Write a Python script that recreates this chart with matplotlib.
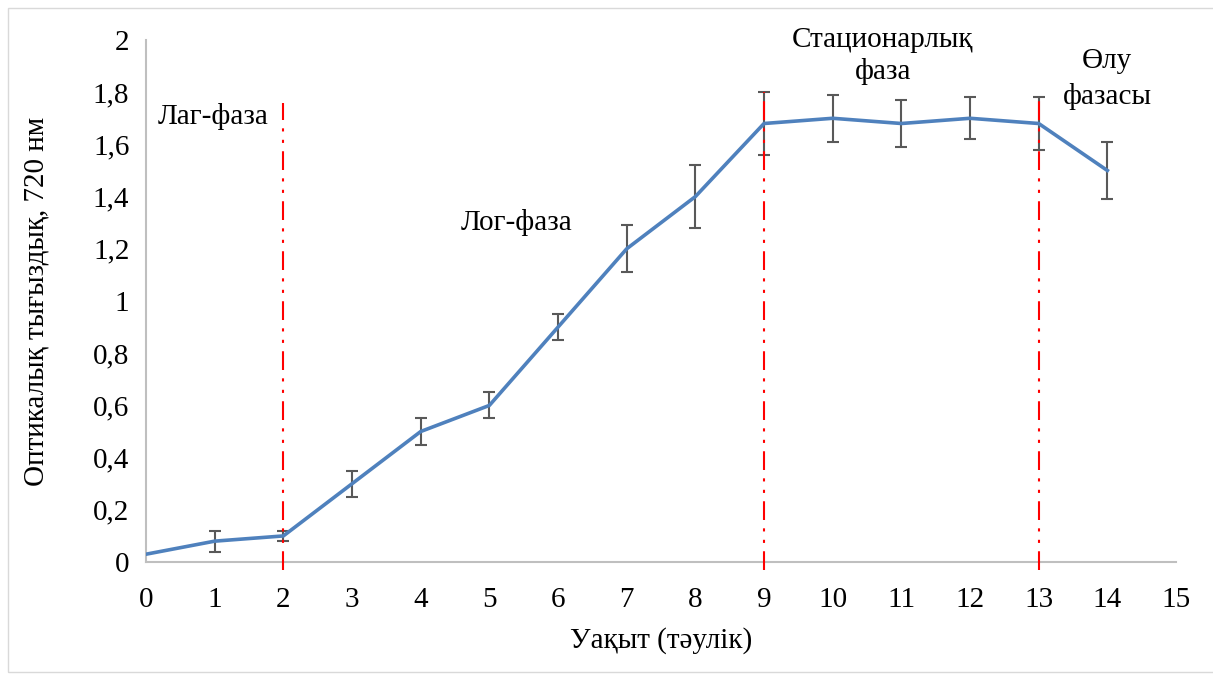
import matplotlib
matplotlib.use("Agg")
import matplotlib.pyplot as plt
from matplotlib.patches import Rectangle

plt.rcParams['font.family'] = ['Liberation Serif', 'DejaVu Serif']

days = [0, 1, 2, 3, 4, 5, 6, 7, 8, 9, 10, 11, 12, 13, 14]
density = [0.03, 0.08, 0.10, 0.30, 0.50, 0.60, 0.90, 1.20, 1.40, 1.68, 1.70, 1.68, 1.70, 1.68, 1.50]
errors = [0, 0.04, 0.02, 0.05, 0.05, 0.05, 0.05, 0.09, 0.12, 0.12, 0.09, 0.09, 0.08, 0.10, 0.11]

phase_bounds = [2, 9, 13]
phase_tops = [1.76, 1.80, 1.78]
phase_labels = ['Лаг-фаза', 'Лог-фаза', 'Стационарлық\nфаза', 'Өлу\nфазасы']
label_pos = [(0.98, 1.705), (5.4, 1.30), (10.73, 1.94), (14.0, 1.85)]
label_spacing = [1.2, 1.2, 1.25, 1.45]

yticks = [0, 0.2, 0.4, 0.6, 0.8, 1.0, 1.2, 1.4, 1.6, 1.8, 2.0]
ytick_labels = ['0', '0,2', '0,4', '0,6', '0,8', '1', '1,2', '1,4', '1,6', '1,8', '2']

FS = 21

fig = plt.figure(figsize=(12.13, 6.81), dpi=100)
ax = fig.add_axes([0.1204, 0.1747, 0.8491, 0.7666])

# light frame around the whole chart
fig.patches.append(Rectangle((0.007, 0.013), 0.995, 0.975, transform=fig.transFigure,
                             fill=False, edgecolor='#d9d9d9', linewidth=1))

for xb, top in zip(phase_bounds, phase_tops):
    ax.plot([xb, xb], [-0.03, top], color='red', linewidth=1.5,
            dashes=[9, 4, 1.5, 4, 1.5, 4], clip_on=False, zorder=3)

ax.errorbar(days[1:], density[1:], yerr=errors[1:], fmt='none', ecolor='#595959',
            elinewidth=1.5, capsize=4, capthick=1.5, zorder=2)
ax.plot(days, density, color='#4f81bd', linewidth=2.6, zorder=4)

for text, (tx, ty), ls in zip(phase_labels, label_pos, label_spacing):
    ax.text(tx, ty, text, fontsize=FS, ha='center', va='center', linespacing=ls)

ax.set_xlim(0, 15)
ax.set_ylim(0, 2)
ax.set_xticks(range(0, 16))
ax.set_yticks(yticks)
ax.set_yticklabels(ytick_labels)
ax.tick_params(length=0, labelsize=FS)
ax.tick_params(axis='x', pad=18)
ax.tick_params(axis='y', pad=12)

for side in ['top', 'right']:
    ax.spines[side].set_visible(False)
for side in ['left', 'bottom']:
    ax.spines[side].set_color('#bfbfbf')
    ax.spines[side].set_linewidth(1.5)

ax.set_xlabel('Уақыт (тәулік)', fontsize=FS, labelpad=10)
ax.set_ylabel('Оптикалық тығыздық, 720 нм', fontsize=FS, labelpad=31)

fig.savefig('out.png', dpi=100)
